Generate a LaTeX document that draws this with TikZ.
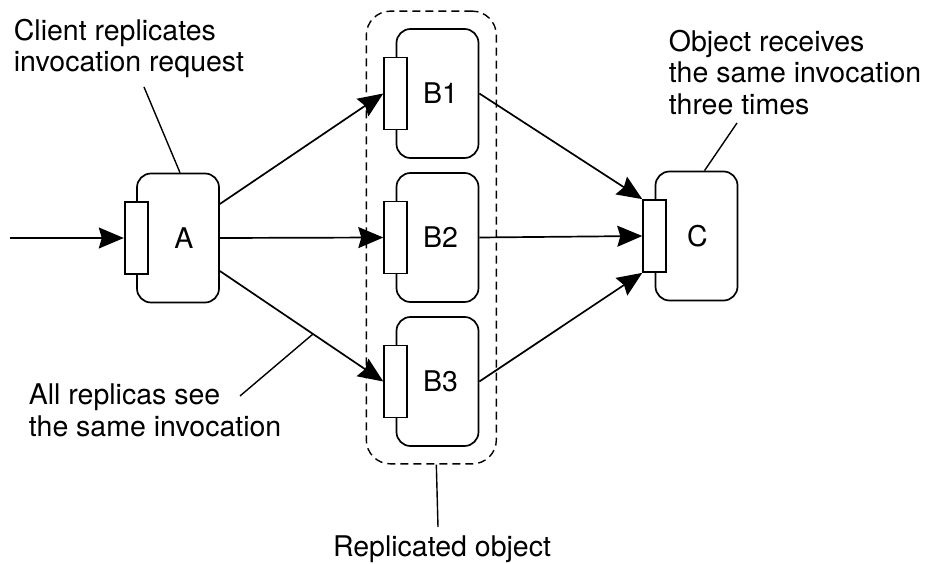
\documentclass[tikz,border=0pt]{standalone}
\usepackage{fontspec}
\setmainfont{TeX Gyre Heros}
\usetikzlibrary{arrows.meta,fit}

\begin{document}
\begin{tikzpicture}[x=1pt,y=-1pt,line width=1.7pt,
  every node/.style={font=\fontsize{28.5}{31.5}\selectfont},
  obj/.style={draw,rounded corners=14pt,minimum width=82pt,minimum height=129pt,inner sep=0pt},
  port/.style={draw,fill=white,minimum width=23pt,minimum height=72pt,inner sep=0pt},
  call/.style={-{Stealth[length=25pt,width=21pt,inset=3pt]}},
  note/.style={align=left,inner sep=0pt,anchor=north west},
  lead/.style={line width=1.4pt}]
\useasboundingbox (0,0) rectangle (927,564);
\node[obj,label={[xshift=6pt]center:A}] (A) at (178,238) {};
\node[port] (pA) at (A.west) {};
\node[obj,label={[xshift=3pt]center:B1}] (B1) at (437.5,93.5) {};
\node[port] (pB1) at (B1.west) {};
\node[obj,label={[xshift=3pt]center:B2}] (B2) at (437.5,237.5) {};
\node[port] (pB2) at (B2.west) {};
\node[obj,label={[xshift=3pt]center:B3}] (B3) at (437.5,381.5) {};
\node[port] (pB3) at (B3.west) {};
\node[obj,label={[xshift=1pt]center:C}] (C) at (696.5,236) {};
\node[port] (pC) at (C.west) {};
\node[draw,line width=1.4pt,dash pattern=on 8pt off 5pt,rounded corners=24pt,inner sep=17pt,fit=(pB1)(B1)(B3)] (grp) {};

\coordinate (in) at (10,238);
\draw[call] (in) -- (pA.west);
\draw[call] ([yshift=34pt]A.east) -- (pB1.west);
\draw[call] (A.east) -- (pB2.west);
\draw[call] ([yshift=-33pt]A.east) -- coordinate[pos=0.57] (hit) (pB3.west);
\draw[call] (B1.east) -- (pC.north west);
\draw[call] (B2.east) -- (pC.west);
\draw[call] (B3.east) -- (pC.south west);

\node[note] (cliNote) at (13,18) {Client replicates\\invocation request};
\node[note] (objNote) at (668,29) {Object receives\\the same invocation\\three times};
\node[note] (allNote) at (28,383) {All replicas see\\the same invocation};
\node[anchor=base,inner sep=0pt] (grpNote) at (442,556) {Replicated object};

\coordinate (cliFoot) at (144,87);
\coordinate (objFoot) at (737,123);
\coordinate (allFoot) at (240,396);
\coordinate (grpFoot) at (438,527);
\draw[lead] (cliFoot) -- ([xshift=2pt]A.north);
\draw[lead] (objFoot) -- ([xshift=8pt]C.north);
\draw[lead] (allFoot) -- (hit);
\draw[lead] ([xshift=5pt]grp.south) -- (grpFoot);
\end{tikzpicture}
\end{document}
